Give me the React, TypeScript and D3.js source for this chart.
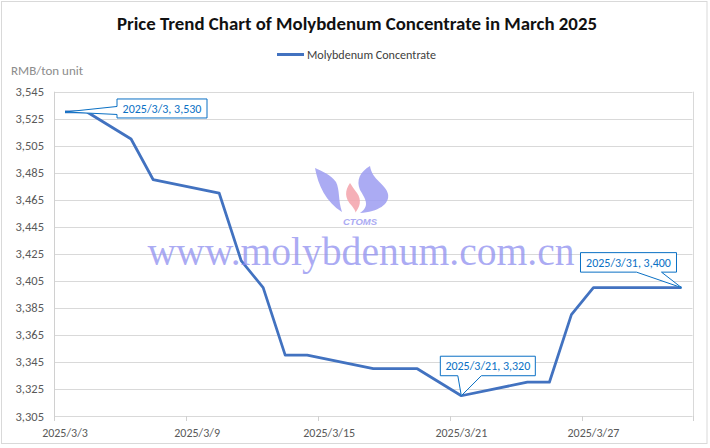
import React from "react";
import * as d3 from "d3";

const dates = ["2025/3/3","2025/3/4","2025/3/5","2025/3/6","2025/3/7","2025/3/10","2025/3/11","2025/3/12","2025/3/13","2025/3/14","2025/3/17","2025/3/18","2025/3/19","2025/3/20","2025/3/21","2025/3/24","2025/3/25","2025/3/26","2025/3/27","2025/3/28","2025/3/31"];
const prices = [3530,3530,3520,3510,3480,3470,3420,3400,3350,3350,3340,3340,3340,3330,3320,3330,3330,3380,3400,3400,3400];
const xTickLabels = ["2025/3/3","2025/3/9","2025/3/15","2025/3/21","2025/3/27"];
const yTickValues = d3.range(3305, 3546, 20);
const calloutDates = ["2025/3/3","2025/3/21","2025/3/31"];

const title = "Price Trend Chart of Molybdenum Concentrate in March 2025";
const seriesName = "Molybdenum Concentrate";
const yTitle = "RMB/ton unit";

const W = 710, H = 448;
const plot = { left: 54, right: 692.5, top: 91.7, bottom: 416 };
const FONT = "Carlito, Calibri, Lato, 'Open Sans', sans-serif";
const LINE = "#4272c0";
const CALL = "#0a70c4";

const parse = d3.timeParse("%Y/%m/%d");
const fmt = d3.format(",");

export default function App() {
  const halfDay = 12 * 3600 * 1000;
  const first = parse(dates[0])!;
  const last = parse(dates[dates.length - 1])!;
  const x = d3.scaleTime()
    .domain([new Date(+first - halfDay), new Date(+last + halfDay)])
    .range([plot.left, plot.right]);
  const y = d3.scaleLinear().domain([3305, 3545]).range([plot.bottom, plot.top]);

  const pts = dates.map((d, i) => ({ date: parse(d)!, label: d, v: prices[i] }));
  const line = d3.line<any>().x(d => x(d.date)).y(d => y(d.v));

  const tickBounds = xTickLabels.map(l => new Date(+parse(l)! - halfDay));
  tickBounds.push(new Date(+last + halfDay));

  const calloutLayout: any[] = [
    { bx: 52, by: -13, w: 90, h: 19, side: "left", a: -5.5, b: 2.5 },
    { bx: -21, by: -39.5, w: 95, h: 19.5, side: "bottom", a: -3.5, b: 20 },
    { bx: -101, by: -35, w: 96, h: 19.5, side: "bottom", a: -45, b: -20 },
  ];

  const callouts = calloutDates.map((cd, i) => {
    const p = pts.find(q => q.label === cd)!;
    const tx = x(p.date), ty = y(p.v);
    const L = calloutLayout[i];
    const x0 = tx + L.bx, y0 = ty + L.by, x1 = x0 + L.w, y1 = y0 + L.h;
    let path = "";
    if (L.side === "left") {
      path = `M${x0},${y0} L${x1},${y0} L${x1},${y1} L${x0},${y1} L${x0},${ty + L.b} L${tx},${ty} L${x0},${ty + L.a} Z`;
    } else {
      path = `M${x0},${y0} L${x1},${y0} L${x1},${y1} L${tx + L.b},${y1} L${tx},${ty} L${tx + L.a},${y1} L${x0},${y1} Z`;
    }
    return { path, text: `${p.label}, ${fmt(p.v)}`, cx: (x0 + x1) / 2, cy: (y0 + y1) / 2 };
  });

  const lav = "#9d9df2";

  return (
    <svg width={W} height={H} style={{ position: "fixed", left: 0, top: 0, background: "#fff" }}>
      <rect x={0} y={0} width={W} height={H} fill="#fff" />
      <rect x={1.5} y={1.5} width={705.5} height={442} fill="#fff" stroke="#d9d9d9" strokeWidth={1} />

      <text x={357} y={30} textAnchor="middle" fontFamily={FONT} fontWeight={700} fontSize={18.5} fill="#111" textLength={480} lengthAdjust="spacingAndGlyphs">{title}</text>

      <line x1={277} x2={304} y1={54.5} y2={54.5} stroke={LINE} strokeWidth={3} />
      <text x={307} y={58.5} fontFamily={FONT} fontSize={12} fill="#404040" textLength={129} lengthAdjust="spacingAndGlyphs">{seriesName}</text>

      <text x={11} y={75} fontFamily={FONT} fontSize={13} fill="#8c8c8c">{yTitle}</text>

      {yTickValues.map(v => (
        <line key={v} x1={plot.left} x2={plot.right} y1={Math.round(y(v)) + 0.5} y2={Math.round(y(v)) + 0.5} stroke="#d9d9d9" strokeWidth={1} />
      ))}
      <line x1={Math.round(plot.right) + 0.5} x2={Math.round(plot.right) + 0.5} y1={plot.top} y2={plot.bottom} stroke="#d9d9d9" />
      <line x1={plot.left + 0.5} x2={plot.left + 0.5} y1={plot.top} y2={plot.bottom + 0.5} stroke="#d0d0d0" />
      {tickBounds.map((t, i) => (
        <line key={i} x1={Math.round(x(t)) + 0.5} x2={Math.round(x(t)) + 0.5} y1={plot.bottom} y2={plot.bottom + 5} stroke="#d0d0d0" />
      ))}

      {yTickValues.map(v => (
        <text key={v} x={44} y={y(v) + 4.5} textAnchor="end" fontFamily={FONT} fontSize={12.5} fill="#595959">{fmt(v)}</text>
      ))}
      {xTickLabels.map(l => (
        <text key={l} x={x(parse(l)!)} y={437} textAnchor="middle" fontFamily={FONT} fontSize={12} fill="#595959">{l}</text>
      ))}

      <path d={line(pts) || ""} fill="none" stroke={LINE} strokeWidth={2.75} strokeLinejoin="round" />

      <g opacity={0.85}>
        <path d="M315,168 C318,185 326,202 342,212 C338,200 340,190 336,182 C331,175 322,171 315,168 Z" fill={lav} />
        <path d="M370,166 C360,172 356,180 360,190 C366,200 370,206 360,213 C378,212 390,204 388,194 C386,184 372,180 370,166 Z" fill={lav} />
        <path d="M350,183 C345,190 344,198 352,206 C355,210 356,212 355,213 C360,207 362,200 357,193 C354,189 352,186 350,183 Z" fill="#f4a3ab" />
        <text x={360} y={225} textAnchor="middle" fontFamily="'Liberation Sans', Arial, sans-serif" fontStyle="italic" fontWeight={700} fontSize={9.5} fill={lav}>CTOMS</text>
        <text x={361} y={265} textAnchor="middle" fontFamily="'Liberation Serif', 'DejaVu Serif', serif" fontSize={40} fill="#8c8cf0" fillOpacity={0.85} textLength={427} lengthAdjust="spacingAndGlyphs">www.molybdenum.com.cn</text>
      </g>

      {callouts.map((c, i) => (
        <g key={i}>
          <path d={c.path} fill="#fff" stroke={CALL} strokeWidth={1} />
          <text x={c.cx} y={c.cy + 4.2} textAnchor="middle" fontFamily={FONT} fontSize={12} fill={CALL}>{c.text}</text>
        </g>
      ))}
    </svg>
  );
}
